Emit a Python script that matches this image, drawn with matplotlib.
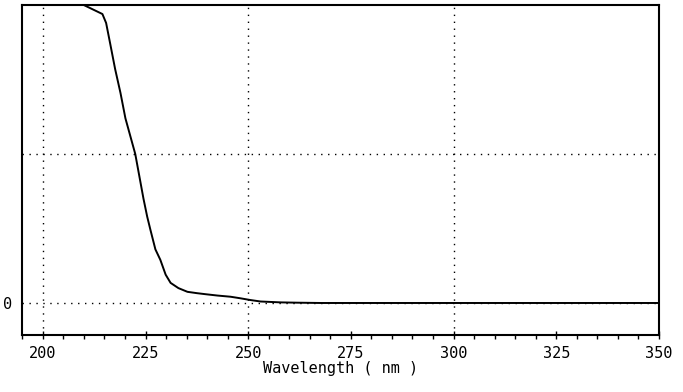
import numpy as np
import matplotlib
matplotlib.use("Agg")
import matplotlib.pyplot as plt
from matplotlib.ticker import MultipleLocator

# absorbance trace (values above 2 are off-scale / clipped)
wavelength = [195, 200, 205, 209, 210, 211.5, 213, 214.5, 215.4, 216.4, 217.6,
              218.9, 220.1, 221.3, 222.5, 223.5, 224.5, 225.4, 226.2, 227.4,
              228.6, 229.9, 231.1, 233.0, 235.2, 237.5, 239.6, 242.5, 245.7,
              248.0, 250.5, 253.0, 258.0, 262.0, 267.7, 280, 300, 325, 350]
absorb = [2.4, 2.4, 2.4, 2.4, 2.0, 1.98, 1.96, 1.94, 1.88, 1.74, 1.57,
          1.41, 1.24, 1.12, 1.0, 0.85, 0.70, 0.58, 0.49, 0.36,
          0.29, 0.19, 0.135, 0.10, 0.075, 0.066, 0.059, 0.05, 0.042,
          0.032, 0.02, 0.01, 0.004, 0.002, 0.0, 0.0, 0.0, 0.0, 0.0]

xticks = [200, 225, 250, 275, 300, 325, 350]
xgrid = [200, 250, 300]
ygrid = [0, 1]

mono = "DejaVu Sans Mono"

fig = plt.figure(figsize=(6.83, 3.92), dpi=100)
ax = fig.add_axes([0.0327, 0.145, 0.932, 0.842])

ax.plot(wavelength, absorb, color="black", lw=1.4, clip_on=True)

for xv in xgrid:
    ax.axvline(xv, color="black", lw=1.0, ls=(0, (1, 4)))
for yv in ygrid:
    ax.axhline(yv, color="black", lw=1.0, ls=(0, (1, 4)), zorder=0)

ax.set_xlim(195, 350)
ax.set_ylim(-0.216, 2.0)

ax.set_xticks(xticks)
ax.set_xticklabels([str(t) for t in xticks], family=mono, fontsize=11)
ax.xaxis.set_minor_locator(MultipleLocator(5))
ax.tick_params(axis="x", which="major", direction="inout", length=6, width=1, pad=5)
ax.tick_params(axis="x", which="minor", direction="out", length=3, width=1)

ax.set_yticks([0])
ax.set_yticklabels(["0"], family=mono, fontsize=11)
ax.tick_params(axis="y", length=0, pad=7)

for sp in ax.spines.values():
    sp.set_linewidth(1.5)
    sp.set_color("black")

ax.set_xlabel("Wavelength ( nm )", family=mono, fontsize=11, labelpad=0)

fig.savefig("out.png", dpi=100)
